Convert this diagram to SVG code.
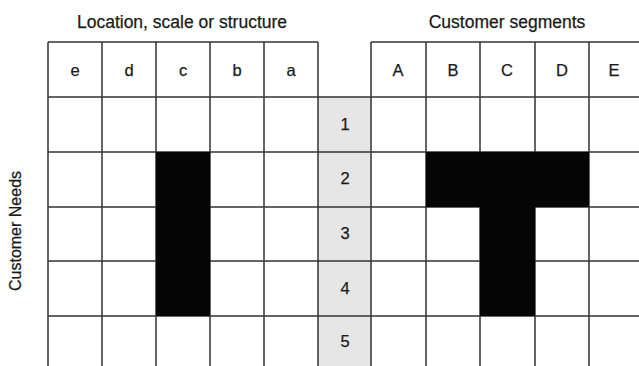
<svg xmlns="http://www.w3.org/2000/svg" width="639" height="366" viewBox="0 0 639 366">
<style>
.ln{stroke:#333;stroke-width:1.5;fill:none}
.blk{fill:#050505}
.t{font-family:"Liberation Sans",Arial,sans-serif;fill:#1a1a1a;text-anchor:middle;stroke:#1a1a1a;stroke-width:0.25}
.hd{font-size:17.5px}
.lb{font-size:16.5px}
.vt{font-size:16px}
</style>
<rect width="639" height="366" fill="#fff"/>
<g id="titles">
<text class="t hd" x="182" y="28">Location, scale or structure</text>
<text class="t hd" x="507" y="28">Customer segments</text>
<text class="t vt" transform="translate(21,231) rotate(-90)">Customer Needs</text>
</g>
<g id="needs-column">
<rect x="318" y="97" width="53" height="269" fill="#e6e6e6"/>
</g>
<g id="grid">
<path class="ln" d="M48 42H318M371 42H639M48 97H639M48 152H639M48 207H639M48 261H639M48 316H639"/>
<path class="ln" d="M48 42V366M102 42V366M156 42V366M210 42V366M264 42V366M318 42V366M371 42V366M426 42V366M480 42V366M535 42V366M589 42V366"/>
</g>
<g id="black-cells">
<rect class="blk" x="156" y="152" width="54" height="164"/>
<rect class="blk" x="426" y="152" width="163" height="55"/>
<rect class="blk" x="480" y="207" width="55" height="109"/>
</g>
<g id="left-headers">
<text class="t lb" x="75" y="76">e</text>
<text class="t lb" x="129" y="76">d</text>
<text class="t lb" x="183" y="76">c</text>
<text class="t lb" x="237" y="76">b</text>
<text class="t lb" x="291" y="76">a</text>
</g>
<g id="right-headers">
<text class="t lb" x="398" y="76">A</text>
<text class="t lb" x="453" y="76">B</text>
<text class="t lb" x="507" y="76">C</text>
<text class="t lb" x="562" y="76">D</text>
<text class="t lb" x="614" y="76">E</text>
</g>
<g id="need-numbers">
<text class="t lb" x="345" y="130">1</text>
<text class="t lb" x="345" y="184">2</text>
<text class="t lb" x="345" y="239">3</text>
<text class="t lb" x="345" y="294">4</text>
<text class="t lb" x="345" y="347">5</text>
</g>
</svg>
